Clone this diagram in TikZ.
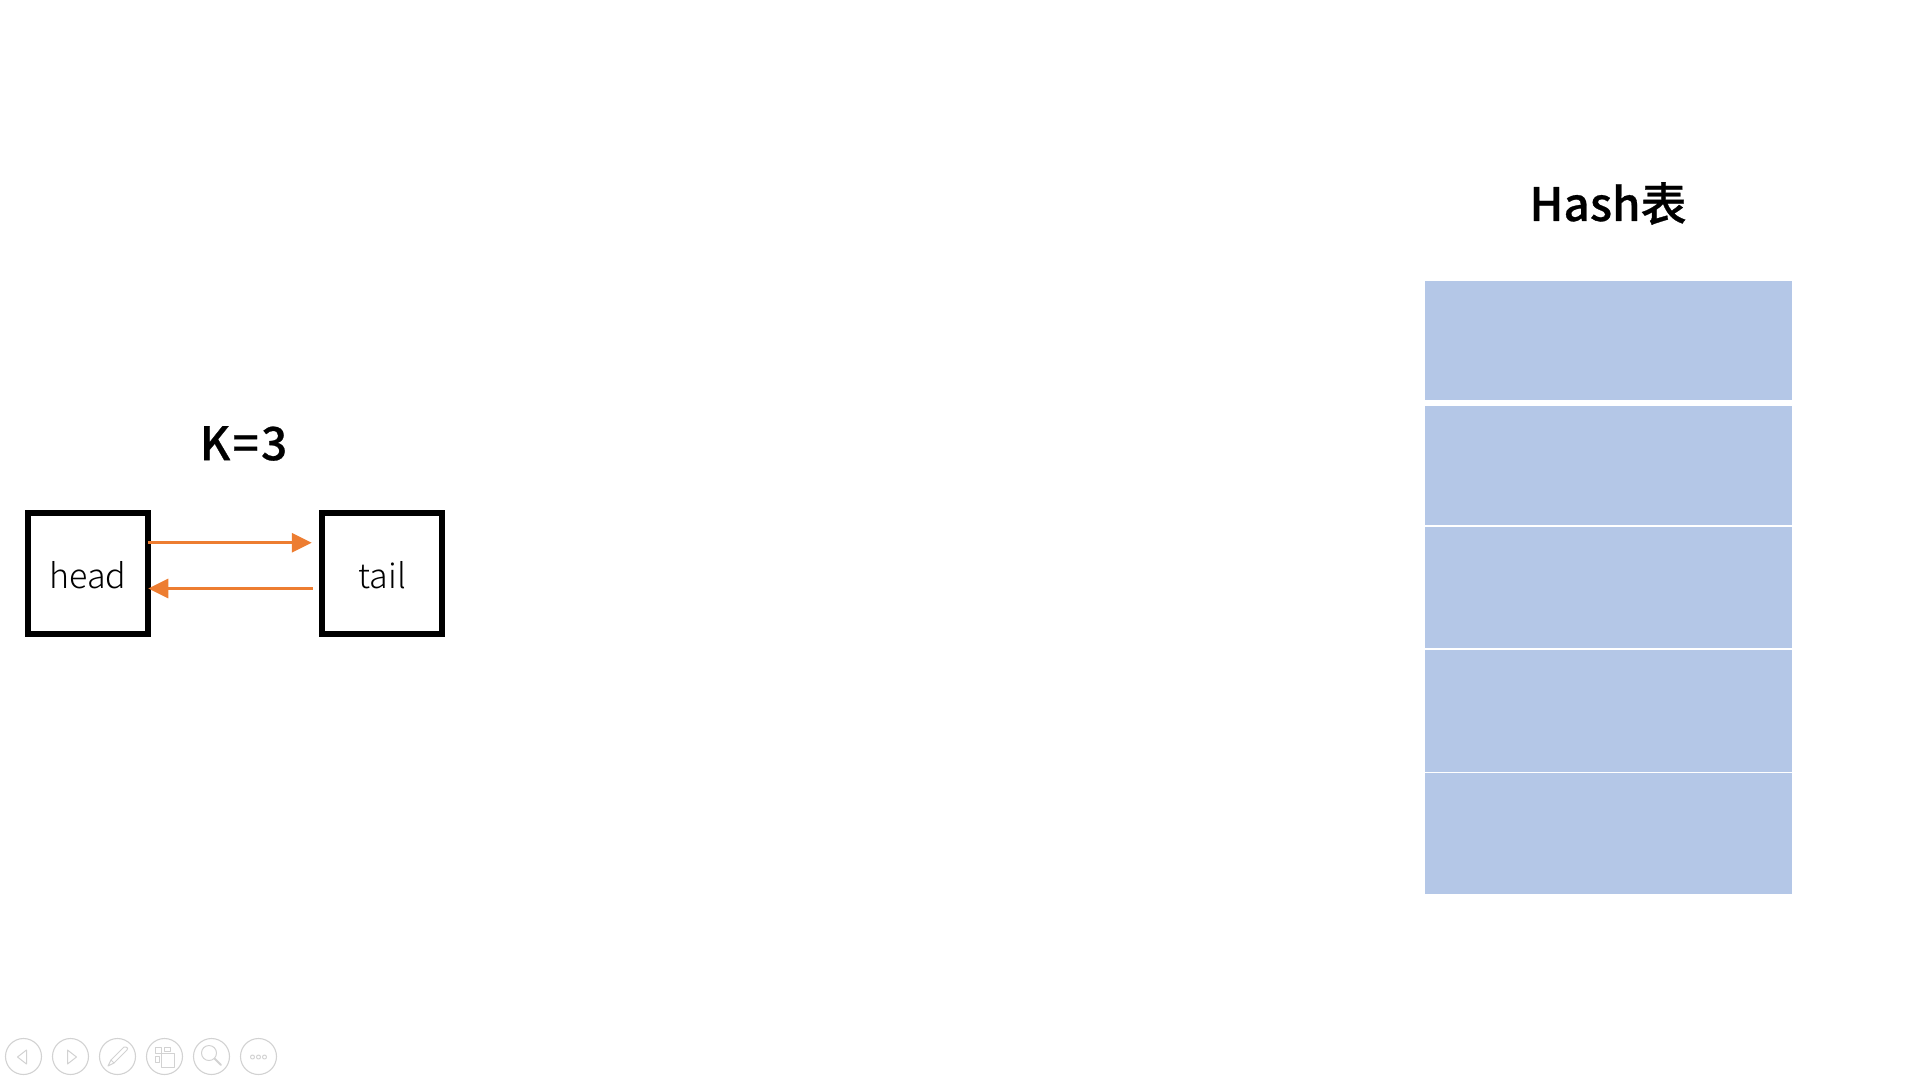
\documentclass[tikz,border=0pt]{standalone}
\usepackage{fontspec}
\usetikzlibrary{arrows.meta}
\newfontfamily\titlefont[FakeBold=0.6]{Noto Sans CJK SC Medium}
\newfontfamily\ktitlefont[FakeBold=0.6,LetterSpace=5]{Noto Sans CJK SC Medium}
\newfontfamily\boxfont{Noto Sans CJK SC Light}
\definecolor{rowblue}{HTML}{B4C7E7}
\definecolor{arroworange}{HTML}{ED7D31}
\definecolor{toolgray}{HTML}{D2D2D2}
\tikzset{
  rowcell/.style={fill=rowblue,draw=none,rectangle,inner sep=0pt,outer sep=0pt,minimum width=367pt,anchor=north west},
  listbox/.style={draw=black,line width=5.7pt,rectangle,inner sep=0pt,outer sep=0pt,minimum width=120.5pt,minimum height=121pt},
  boxlabel/.style={inner sep=0pt,font=\boxfont\fontsize{34}{38}\selectfont,text=black},
  titletext/.style={inner sep=0pt,font=\titlefont\fontsize{46}{50}\selectfont,text=black},
  ktitle/.style={inner sep=0pt,font=\ktitlefont\fontsize{46}{50}\selectfont,text=black},
  link/.style={draw=arroworange,line width=3pt,-{Triangle[length=20pt,width=19pt,fill=arroworange]}},
  toolring/.style={draw=toolgray,line width=1.1pt,circle,minimum size=36pt,inner sep=0pt},
  toolline/.style={draw=toolgray,line width=1pt,line join=round,line cap=round}
}
\begin{document}
\begin{tikzpicture}[x=1pt,y=-1pt]
\useasboundingbox (0,0) rectangle (1920,1080);
% hash table
\node[titletext] (hashtitle) at (1608,203.5) {Hash表};
\node[rowcell,minimum height=119pt] (r1) at (1425,281) {};
\node[rowcell,minimum height=119pt] (r2) at (1425,406) {};
\node[rowcell,minimum height=120.5pt] (r3) at (1425,527) {};
\node[rowcell,minimum height=121.5pt] (r4) at (1425,650) {};
\node[rowcell,minimum height=121pt] (r5) at (1425,773) {};
% list
\node[ktitle] (kt) at (243.5,443.5) {K=3};
\node[listbox] (head) at (88,573.5) {};
\node[listbox] (tail) at (382,573.5) {};
\node[boxlabel] (headlabel) at (88,575) {head};
\node[boxlabel] (taillabel) at (382.5,575) {tail};
\draw[link] ([yshift=30.8pt]head.east) -- ([yshift=30.8pt,xshift=-10pt]tail.west);
\draw[link] ([yshift=-15pt,xshift=-9pt]tail.west) -- ([yshift=-15pt]head.east);
% toolbar
\node[toolring] (t1) at (23.5,1056.5) {};
\node[toolring] (t2) at (70.5,1056.5) {};
\node[toolring] (t3) at (117.5,1056.5) {};
\node[toolring] (t4) at (164.5,1056.5) {};
\node[toolring] (t5) at (211.5,1056.5) {};
\node[toolring] (t6) at (258.5,1056.5) {};
\draw[toolline] (26.5,1050) -- (17.5,1057) -- (26.5,1064) -- cycle;
\draw[toolline] (67.5,1050) -- (76.5,1057) -- (67.5,1064) -- cycle;
% pen
\draw[toolline] (126,1047) .. controls (128,1047) and (128,1049) .. (127,1050) -- (114,1063) -- (111,1060) -- (124,1047) -- cycle;
\draw[toolline] (111,1060) -- (108,1066) -- (114,1063);
% slides
\draw[toolline] (155,1047) rectangle (161,1053);
\draw[toolline] (164,1047) rectangle (170,1051);
\draw[toolline] (155,1056) rectangle (159,1062);
\draw[toolline,fill=white] (161,1053) rectangle (174,1067);
% magnifier
\draw[toolline] (209,1053) circle (7.5pt);
\draw[toolline,line width=2pt] (214.5,1058.5) -- (221,1065);
% dots
\draw[toolline] (252.5,1057) circle (2pt);
\draw[toolline] (258.5,1057) circle (2pt);
\draw[toolline] (264.5,1057) circle (2pt);
\end{tikzpicture}
\end{document}
